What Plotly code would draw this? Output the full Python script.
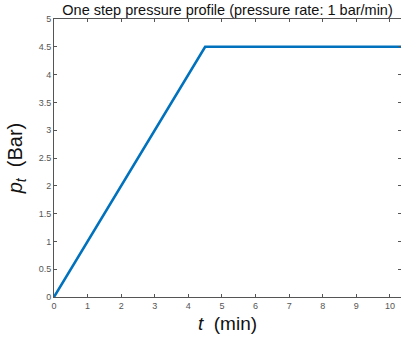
import plotly.graph_objects as go

t_vals = [0, 4.5, 10.5]
p_vals = [0, 4.5, 4.5]
x_ticks = [0, 1, 2, 3, 4, 5, 6, 7, 8, 9, 10]
y_ticks = [0, 0.5, 1, 1.5, 2, 2.5, 3, 3.5, 4, 4.5, 5]

fig = go.Figure()
fig.add_trace(go.Scatter(x=t_vals, y=p_vals, mode="lines",
                         line=dict(color="#0072BD", width=2.6), showlegend=False))

axis_common = dict(showline=True, linecolor="#555555", linewidth=1, mirror="ticks",
                   ticks="inside", ticklen=3, tickwidth=1, tickcolor="#555555",
                   showgrid=False, zeroline=False,
                   tickfont=dict(family="Liberation Sans, Arial", size=9, color="#555555"))

fig.update_layout(
    width=401, height=341,
    margin=dict(l=54, r=0, t=19, b=44),
    plot_bgcolor="white", paper_bgcolor="white",
    title=dict(text="One step pressure profile (pressure rate: 1 bar/min)",
               x=0.5675, xanchor="center", y=0.985, yanchor="top",
               font=dict(family="Liberation Sans, Arial", size=14.5, color="#111111")),
    xaxis=dict(range=[0, 10.33], tickvals=x_ticks, ticktext=[str(v) for v in x_ticks],
               title=dict(text="<i>t</i>  (min)", standoff=6,
                          font=dict(family="Liberation Sans, Arial", size=19, color="#111111")),
               **axis_common),
    yaxis=dict(range=[0, 5], tickvals=y_ticks, ticktext=[f"{v:g}" for v in y_ticks],
               title=dict(text="<i>p</i><sub><i>t</i></sub>  (Bar)", standoff=10,
                          font=dict(family="Liberation Sans, Arial", size=20, color="#111111")),
               **axis_common),
)

fig.write_html("out.html")
